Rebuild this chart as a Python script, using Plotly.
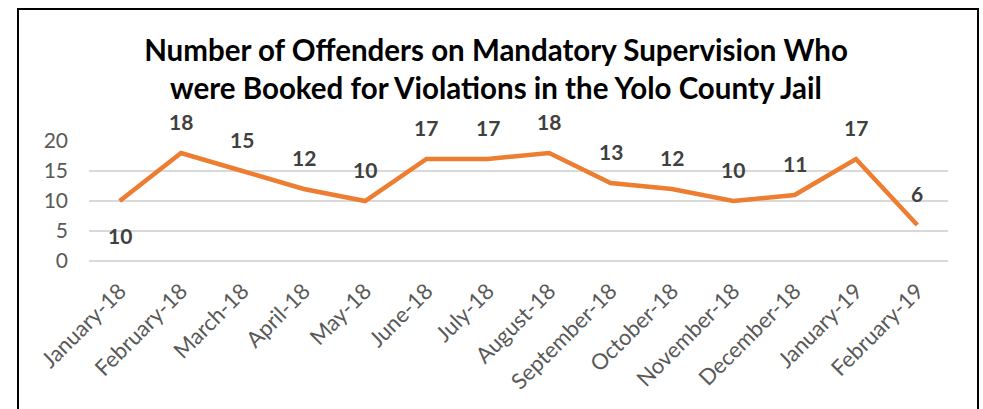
import plotly.graph_objects as go

# Monthly counts of mandatory-supervision offenders booked for violations
months = ["January-18", "February-18", "March-18", "April-18", "May-18", "June-18",
          "July-18", "August-18", "September-18", "October-18", "November-18",
          "December-18", "January-19", "February-19"]
offenders = [10, 18, 15, 12, 10, 17, 17, 18, 13, 12, 10, 11, 17, 6]
label_below = [True] + [False] * 13
y_ticks = [0, 5, 10, 15, 20]

FONT = "Lato"
W, H = 983, 409
L, R, T, B = 89, 35, 141, 148

fig = go.Figure()
fig.add_trace(go.Scatter(
    x=months, y=offenders, mode="lines",
    line=dict(color="#ED7D31", width=4.5),
    hoverinfo="x+y", showlegend=False,
))

# value labels, offset above (or below) each point
for m, v, below in zip(months, offenders, label_below):
    fig.add_annotation(
        x=m, y=v, text=str(v), showarrow=False,
        yshift=-34 if below else 32,
        font=dict(family=FONT, size=21, color="#404040", weight="bold"),
    )

# frame around the chart area
pw, ph = W - L - R, H - T - B
fig.add_shape(
    type="rect", xref="paper", yref="paper",
    x0=(18 - L) / pw, x1=(978 - L) / pw,
    y0=(H - B - 480) / ph, y1=(H - B - 9) / ph,
    line=dict(color="#000000", width=2), fillcolor="rgba(0,0,0,0)", layer="below",
)

fig.update_layout(
    width=W, height=H,
    margin=dict(l=L, r=R, t=T, b=B),
    paper_bgcolor="white", plot_bgcolor="white",
    title=dict(
        text="Number of Offenders on Mandatory Supervision Who<br>"
             "were Booked for Violations in the Yolo County Jail",
        x=496 / W, xanchor="center", y=1 - 61 / H, yanchor="top",
        font=dict(family=FONT, size=29.5, color="#000000", weight="bold"),
    ),
    xaxis=dict(
        type="category", range=[-0.5, len(months) - 0.5],
        tickangle=-45, showgrid=False, zeroline=False,
        showline=False, ticks="", ticklabelstandoff=12,
        tickfont=dict(family=FONT, size=22, color="#595959"),
    ),
    yaxis=dict(
        range=[0, 20], tickvals=y_ticks, showgrid=True, gridcolor="#D9D9D9",
        gridwidth=2, zeroline=True, zerolinecolor="#D9D9D9", zerolinewidth=2,
        showline=False, ticks="", ticklabelstandoff=20,
        tickfont=dict(family=FONT, size=21, color="#595959"),
    ),
)

fig.write_html("out.html")
